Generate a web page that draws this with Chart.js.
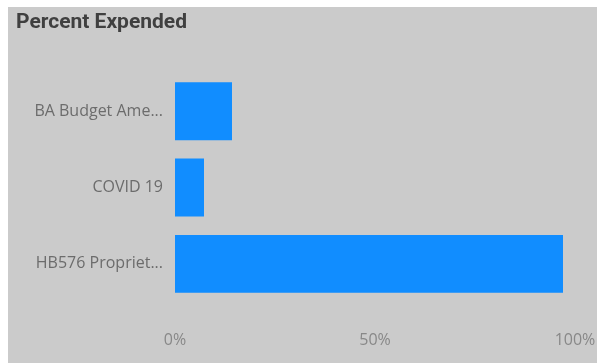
<!DOCTYPE html>
<html>
<head>
<meta charset="utf-8">
<script src="https://cdn.jsdelivr.net/npm/chart.js@4.4.1/dist/chart.umd.min.js"></script>
<style>
  html, body { margin: 0; padding: 0; background: #ffffff; }
  #panel { position: absolute; left: 8px; top: 7px; width: 589px; height: 356px; background: #cbcbcb; }
</style>
</head>
<body>
<div id="panel"><canvas id="expendedChart" width="589" height="356"></canvas></div>
<script>
// Percent expended per fund
const categories = ['BA Budget Ame...', 'COVID 19', 'HB576 Propriet...'];
const percentExpended = [14.25, 7.25, 97];
const tickValues = [0, 50, 100];

const ctx = document.getElementById('expendedChart').getContext('2d');

const expendedChart = new Chart(ctx, {
  type: 'bar',
  data: {
    labels: categories,
    datasets: [{
      label: 'Percent Expended',
      data: percentExpended,
      backgroundColor: '#118dff',
      borderWidth: 0,
      categoryPercentage: 0.76,
      barPercentage: 1
    }]
  },
  options: {
    indexAxis: 'y',
    responsive: false,
    animation: false,
    layout: { padding: { left: 8, right: 22, top: 0, bottom: 0 } },
    plugins: {
      legend: { display: false },
      tooltip: { enabled: false },
      title: {
        display: true,
        text: 'Percent Expended',
        align: 'start',
        color: '#404040',
        font: { family: 'Roboto', size: 21, weight: 'bold' },
        padding: { top: 3, bottom: 38 }
      }
    },
    scales: {
      x: {
        min: 0,
        max: 100,
        afterBuildTicks: (scale) => { scale.ticks = tickValues.map(v => ({ value: v })); },
        grid: { display: false, drawTicks: false },
        border: { display: false },
        ticks: {
          padding: 29,
          color: '#888888',
          font: { family: 'Open Sans', size: 16 },
          callback: (v) => v + '%'
        },
        afterFit: (scale) => {
          // let the 100% label hang past the plot edge instead of shrinking it
          scale.height = 61;
          scale.paddingLeft = 0;
          scale.paddingRight = 0;
        }
      },
      y: {
        grid: { display: false, drawTicks: false },
        border: { display: false },
        ticks: {
          padding: 12,
          color: '#6c6c6c',
          font: { family: 'Open Sans', size: 16 }
        },
        afterFit: (scale) => {
          scale.width = 159;
          scale.paddingTop = 0;
          scale.paddingBottom = 0;
        }
      }
    }
  }
});
</script>
</body>
</html>
